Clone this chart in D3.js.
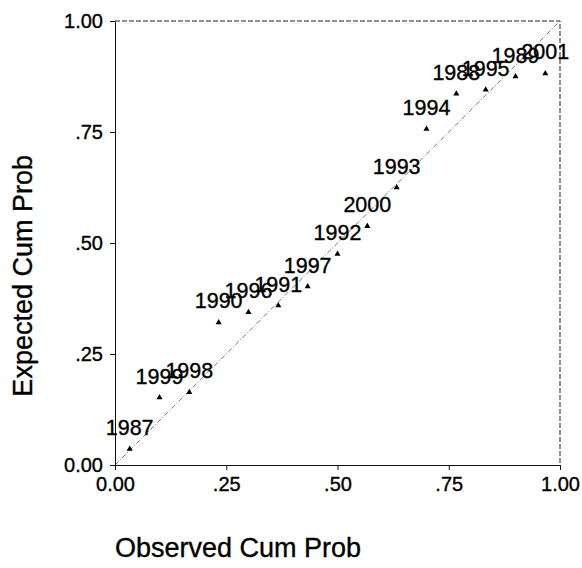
<!DOCTYPE html>
<html>
<head>
<meta charset="utf-8">
<script src="https://cdn.jsdelivr.net/npm/d3@7"></script>
<style>
  body { margin: 0; background: #fff; }
  text { font-family: "Liberation Sans", Arial, sans-serif; fill: #000; stroke: #000; stroke-width: 0.35; }
</style>
</head>
<body>
<script>
    const years = ['1987', '1999', '1998', '1990', '1996', '1991', '1997', '1992',
                   '2000', '1993', '1994', '1988', '1995', '1989', '2001'];
    const observed = [0.033, 0.100, 0.167, 0.233, 0.300, 0.367, 0.433, 0.500,
                      0.567, 0.633, 0.700, 0.767, 0.833, 0.900, 0.967];
    const expected = [0.036, 0.152, 0.164, 0.321, 0.344, 0.359, 0.402, 0.475,
                      0.538, 0.625, 0.757, 0.836, 0.845, 0.875, 0.882];
    const tickValues = [0, 0.25, 0.5, 0.75, 1];
    const tickLabels = ['0.00', '.25', '.50', '.75', '1.00'];

    const width = 582;
    const height = 568;
    const plotLeft = 115, plotRight = 560, plotTop = 21, plotBottom = 465;

    const points = years.map((y, i) => ({year: y, x: observed[i], y: expected[i]}));

    const xScale = d3.scaleLinear().domain([0, 1]).range([plotLeft, plotRight]);
    const yScale = d3.scaleLinear().domain([0, 1]).range([plotBottom, plotTop]);

    const svg = d3.select('body')
                  .append('svg')
                    .attr('width', width)
                    .attr('height', height);

    // top and right frame, dashed
    svg.append('path')
       .attr('d', `M${plotLeft},${plotTop}H${plotRight}V${plotBottom}`)
       .attr('fill', 'none')
       .attr('stroke', '#222')
       .attr('stroke-width', 1)
       .attr('stroke-dasharray', '5,2');

    // reference line
    svg.append('line')
       .attr('x1', xScale(0)).attr('y1', yScale(0))
       .attr('x2', xScale(1)).attr('y2', yScale(1))
       .attr('stroke', '#777')
       .attr('stroke-width', 1)
       .attr('stroke-dasharray', '5,2,1,2');

    // axes
    const fmt = (d) => tickLabels[tickValues.indexOf(d)];

    const xAxis = svg.append('g')
       .attr('transform', `translate(0, ${plotBottom})`)
       .call(d3.axisBottom(xScale).tickValues(tickValues).tickFormat(fmt)
               .tickSize(5).tickPadding(7).tickSizeOuter(0));

    const yAxis = svg.append('g')
       .attr('transform', `translate(${plotLeft}, 0)`)
       .call(d3.axisLeft(yScale).tickValues(tickValues).tickFormat(fmt)
               .tickSize(5).tickPadding(7).tickSizeOuter(0));

    [xAxis, yAxis].forEach((g) => {
        g.selectAll('path, line').attr('stroke', '#111');
        g.selectAll('text')
         .attr('font-size', 20)
         .attr('font-family', '"Liberation Sans", Arial, sans-serif')
         .attr('fill', '#000');
    });

    // axis titles
    svg.append('text')
       .attr('x', plotLeft)
       .attr('y', 557)
       .attr('font-size', 27)
       .text('Observed Cum Prob');

    svg.append('text')
       .attr('transform', 'translate(32, 155) rotate(-90)')
       .attr('text-anchor', 'end')
       .attr('font-size', 27)
       .text('Expected Cum Prob');

    // points
    svg.selectAll('path.pt')
       .data(points)
       .enter()
         .append('path')
           .attr('class', 'pt')
           .attr('transform', (d) => `translate(${xScale(d.x)}, ${yScale(d.y)})`)
           .attr('d', d3.symbol(d3.symbolTriangle, 16))
           .attr('fill', '#000');

    // year labels
    svg.selectAll('text.lbl')
       .data(points)
       .enter()
         .append('text')
           .attr('class', 'lbl')
           .attr('x', (d) => xScale(d.x))
           .attr('y', (d) => yScale(d.y) - 14)
           .attr('text-anchor', 'middle')
           .attr('font-size', 21.5)
           .text((d) => d.year);
</script>
</body>
</html>
